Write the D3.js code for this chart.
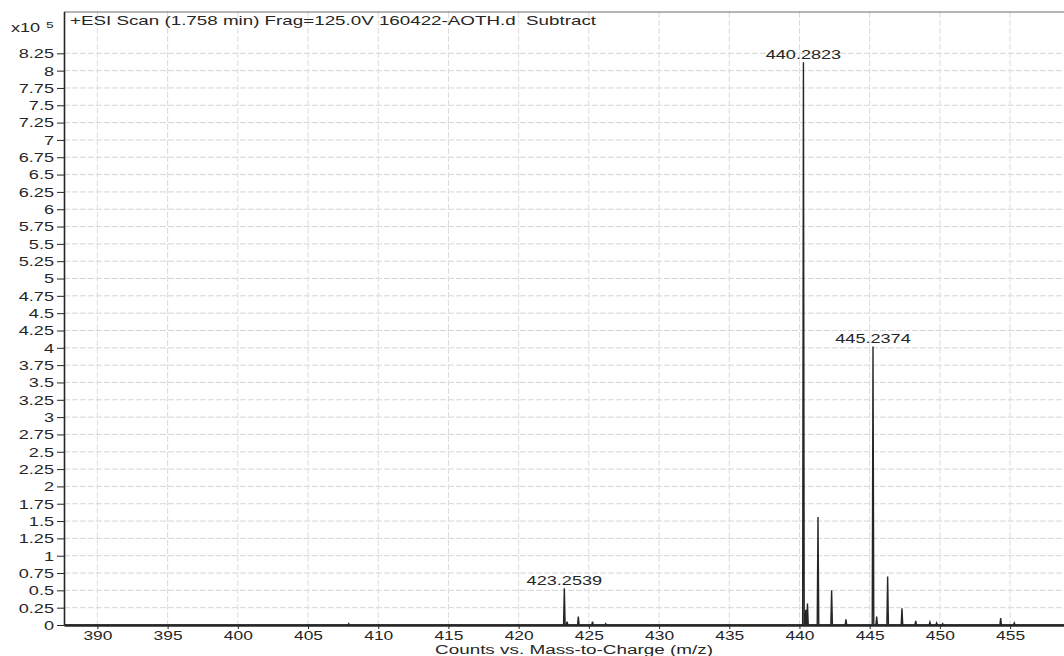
<!DOCTYPE html>
<html>
<head>
<meta charset="utf-8">
<script src="https://cdn.jsdelivr.net/npm/d3@7"></script>
<style>
  html, body { margin: 0; padding: 0; background: #fff; }
  svg { display: block; font-family: "Liberation Sans", Arial, sans-serif; }
</style>
</head>
<body>
<svg id="chart" width="1064" height="656"></svg>
<script>
// ---- data ----
const titleText = "+ESI Scan (1.758 min) Frag=125.0V 160422-AOTH.d  Subtract";
const xAxisLabel = "Counts vs. Mass-to-Charge (m/z)";
const yScaleLabel = "x10";
const yScaleExp = "5";
// peak m/z positions and intensities (x10^5 counts)
const peakMz = [407.9, 423.2539, 423.45, 424.25, 425.26, 426.2, 440.2823, 440.45, 440.57, 441.32, 442.29, 443.31,
                445.2374, 445.5, 446.28, 447.3, 448.28, 449.29, 449.77, 450.2, 454.33, 455.3];
const peakInt = [0.02, 0.53, 0.05, 0.12, 0.05, 0.02, 8.12, 0.22, 0.31, 1.56, 0.50, 0.08,
                 4.02, 0.12, 0.70, 0.24, 0.06, 0.04, 0.03, 0.02, 0.10, 0.03];
// labelled peaks
const labelMz = [423.2539, 440.2823, 445.2374];
const labelInt = [0.53, 8.12, 4.02];
const labelText = ["423.2539", "440.2823", "445.2374"];
// ticks
const xTicks = [390, 395, 400, 405, 410, 415, 420, 425, 430, 435, 440, 445, 450, 455];
const yTicks = [0, 0.25, 0.5, 0.75, 1, 1.25, 1.5, 1.75, 2, 2.25, 2.5, 2.75, 3, 3.25, 3.5, 3.75, 4,
                4.25, 4.5, 4.75, 5, 5.25, 5.5, 5.75, 6, 6.25, 6.5, 6.75, 7, 7.25, 7.5, 7.75, 8, 8.25];
const xDomain = [387.62, 458.84];
const yDomain = [0, 8.846];

// ---- layout ----
const L = 64, R = 1064, T = 12, B = 625;
const SX = 1.45; // horizontal stretch of text as in reference
const svg = d3.select("#chart");
const x = d3.scaleLinear().domain(xDomain).range([L, R]);
const y = d3.scaleLinear().domain(yDomain).range([B, T]);
const ink = "#262626";

// grid
const grid = svg.append("g");
grid.selectAll("line.h").data(yTicks.filter(d => d > 0)).enter().append("line")
  .attr("x1", L).attr("x2", R).attr("y1", d => y(d)).attr("y2", d => y(d))
  .attr("stroke", "#d6d6d6").attr("stroke-width", 1).attr("stroke-dasharray", "6,2");
grid.selectAll("line.v").data(xTicks).enter().append("line")
  .attr("x1", d => x(d)).attr("x2", d => x(d)).attr("y1", T).attr("y2", B)
  .attr("stroke", "#dcdcdc").attr("stroke-width", 1).attr("stroke-dasharray", "6,2");

// top border
svg.append("line").attr("x1", L).attr("x2", R).attr("y1", T).attr("y2", T)
  .attr("stroke", "#6a6a6a").attr("stroke-width", 1);

// spectrum line
const w = 0.055;
const order = d3.range(peakMz.length).sort((a, b) => peakMz[a] - peakMz[b]);
const pts = [[xDomain[0], 0]];
order.forEach(i => {
  pts.push([peakMz[i] - w, 0], [peakMz[i], peakInt[i]], [peakMz[i] + w, 0]);
});
pts.push([xDomain[1], 0]);
svg.append("path").datum(pts)
  .attr("d", d3.line().x(d => x(d[0])).y(d => y(d[1])))
  .attr("fill", "none").attr("stroke", ink).attr("stroke-width", 1.4)
  .attr("stroke-linejoin", "miter");

// y axis
const yAxis = svg.append("g").attr("transform", `translate(${L},0)`)
  .call(d3.axisLeft(y).tickValues(yTicks).tickSize(7).tickSizeOuter(0)
        .tickFormat(d3.format("~g")));
yAxis.select(".domain").attr("stroke", ink).attr("stroke-width", 1.6)
  .attr("d", `M0.5,${T}V${B}`);
yAxis.selectAll(".tick line").attr("stroke", ink).attr("stroke-width", 1);
yAxis.selectAll(".tick text").attr("x", null).attr("dy", "0.35em")
  .attr("transform", `translate(-10,0) scale(${SX},1)`)
  .attr("font-size", 12.5).attr("fill", ink)
  .attr("font-family", "Liberation Sans, Arial, sans-serif");

// x axis
const xAxis = svg.append("g").attr("transform", `translate(0,${B})`)
  .call(d3.axisBottom(x).tickValues(xTicks).tickSize(4).tickSizeOuter(0)
        .tickFormat(d3.format("d")));
xAxis.select(".domain").attr("stroke", ink).attr("stroke-width", 2.6);
xAxis.selectAll(".tick line").attr("stroke", ink).attr("stroke-width", 1);
xAxis.selectAll(".tick text").attr("y", null).attr("dy", null)
  .attr("transform", `translate(0,15) scale(${SX},1)`)
  .attr("font-size", 12).attr("fill", ink)
  .attr("font-family", "Liberation Sans, Arial, sans-serif");

// peak labels
svg.selectAll("text.plabel").data(labelText).enter().append("text")
  .attr("class", "plabel")
  .attr("transform", (d, i) => `translate(${x(labelMz[i])},${y(labelInt[i]) - 3.5}) scale(${SX},1)`)
  .attr("text-anchor", "middle").attr("font-size", 12.5).attr("fill", ink)
  .text(d => d);

// title inside plot
svg.append("text").attr("x", 70).attr("y", 25).attr("font-size", 13.5).attr("fill", ink)
  .style("white-space", "pre")
  .attr("textLength", 526).attr("lengthAdjust", "spacingAndGlyphs").text(titleText);

// axis title
svg.append("text").attr("x", 435).attr("y", 653.5).attr("font-size", 12).attr("fill", ink)
  .attr("textLength", 278).attr("lengthAdjust", "spacingAndGlyphs").text(xAxisLabel);

// exponent label
svg.append("text").attr("transform", `translate(11,32) scale(${SX},1)`)
  .attr("font-size", 12.5).attr("fill", ink).text(yScaleLabel);
svg.append("text").attr("transform", `translate(46,28) scale(${SX},1)`)
  .attr("font-size", 9.5).attr("fill", ink).text(yScaleExp);
</script>
</body>
</html>
